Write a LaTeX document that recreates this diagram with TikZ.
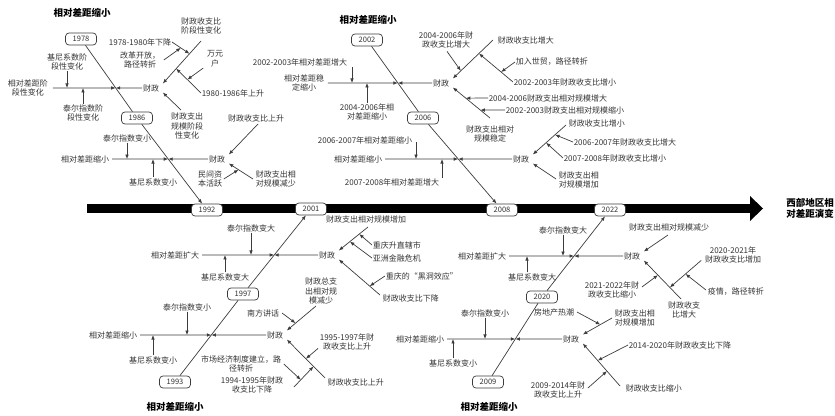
\documentclass[tikz,border=0pt]{standalone}
\usepackage{fontspec}
\setmainfont{Noto Sans CJK SC}
\usetikzlibrary{arrows.meta,calc}
\definecolor{ink}{HTML}{333333}
\definecolor{ln}{HTML}{3C3C3C}
\tikzset{
 lbl/.style={font=\fontsize{8}{9.8}\selectfont, text=ink, inner sep=0.6pt, align=center},
 ttl/.style={font=\fontsize{9.5}{11}\selectfont\bfseries, text=black, inner sep=0, align=center},
 yr/.style={draw=ln, line width=0.7pt, rounded corners=3.5pt, fill=white, minimum width=31pt, minimum height=12pt, inner sep=0, font=\fontsize{7.5}{8}\selectfont, text=ink},
 bone/.style={draw=ln, line width=0.7pt},
 arr/.style={bone, -{Latex[length=4.5pt,width=3.6pt]}},
}
\begin{document}
\begin{tikzpicture}[x=1pt,y=-1pt]
\useasboundingbox (0,0) rectangle (835,415);
% main spine
\fill[black] (87,204) rectangle (750,213);
\fill[black] (750,196) -- (763,208.5) -- (750,221) -- cycle;
\node[ttl] (goal) at (810,208) {西部地区相\\对差距演变};
% year boxes
\node[yr] (y1978) at (81,39) {1978};
\node[yr] (y1986) at (137,118) {1986};
\node[yr] (y1992) at (207,210) {1992};
\node[yr] (y1993) at (175,382) {1993};
\node[yr] (y1997) at (243,294) {1997};
\node[yr] (y2001) at (311,209) {2001};
\node[yr] (y2002) at (367,40) {2002};
\node[yr] (y2006) at (423,118) {2006};
\node[yr] (y2008) at (502,210) {2008};
\node[yr] (y2009) at (488,382) {2009};
\node[yr] (y2020) at (542,297) {2020};
\node[yr] (y2022) at (610,210) {2022};
% diagonal spines
\draw[bone] (y1978) -- (y1986);
\draw[arr] (y1986) -- (y1992);
\draw[bone] (y2002) -- (y2006);
\draw[arr] (y2006) -- (y2008);
\draw[bone] (y1993) -- (y1997);
\draw[arr] (y1997) -- (y2001);
\draw[bone] (y2009) -- (y2020);
\draw[arr] (y2020) -- (y2022);
% junctions
\coordinate (jA) at ($(y1978)!0.62!(y1986)$);
\coordinate (jB) at ($(y1986)!0.446!(y1992)$);
\coordinate (jC) at ($(y2002)!0.551!(y2006)$);
\coordinate (jD) at ($(y2006)!0.446!(y2008)$);
\coordinate (jE) at ($(y1993)!0.534!(y1997)$);
\coordinate (jF) at ($(y1997)!0.459!(y2001)$);
\coordinate (jG) at ($(y2009)!0.506!(y2020)$);
\coordinate (jH) at ($(y2020)!0.471!(y2022)$);
% titles
\node[ttl] (tA) at (82,13) {相对差距缩小};
\node[ttl] (tC) at (368,20) {相对差距缩小};
\node[ttl] (tE) at (175,407) {相对差距缩小};
\node[ttl] (tG) at (489,407) {相对差距缩小};

% ================= Fish A (1978-1986)
\node[lbl] (lA) at (28,88) {相对差距阶\\段性变化};
\node[lbl] (uA) at (67,62) {基尼系数阶\\段性变化};
\node[lbl] (dA) at (83,113) {泰尔指数阶\\段性变化};
\node[lbl] (fA) at (151,88) {财政};
\draw[arr,shorten <=4pt] (lA.east) -- (jA);
\draw[arr] (uA.south) -- (uA.south |- jA);
\draw[arr] (dA.north) -- (dA.north |- jA);
\draw[arr] (fA.west) -- (jA);
\coordinate (fA1) at ([xshift=3pt]fA.north east);
\coordinate (fA2) at ([xshift=3pt]fA.south east);
\coordinate (eA1) at (201,41);
\draw[arr] (eA1) -- (fA1);
\node[lbl] (bA1) at (201,26) {财政收支比\\阶段性变化};
\node[lbl,anchor=east] (sA1) at (172,42) {1978-1980年下降};
\coordinate (pA1) at ($(eA1)!0.3!(fA1)$);
\draw[arr] (sA1.east) -- (pA1);
\node[lbl] (cA1) at (140,60) {改革开放，\\路径转折};
\coordinate (qA1) at ($(sA1.east)!0.5!(pA1)$);
\draw[arr] ([xshift=3pt]cA1.east) -- (qA1);
\node[lbl,anchor=west] (sA2) at (201,93) {1980-1986年上升};
\coordinate (pA2) at ($(eA1)!0.65!(fA1)$);
\draw[arr] (sA2.west) -- (pA2);
\node[lbl] (cA2) at (215,59) {万元\\户};
\coordinate (qA2) at ($(sA2.west)!0.55!(pA2)$);
\draw[arr] ([xshift=-3pt]cA2.south west) -- (qA2);
\coordinate (eA2) at (181,110);
\draw[arr] (eA2) -- (fA2);
\node[lbl] (bA2) at (187,126) {财政支出\\规模阶段\\性变化};

% ================= Fish B (1986-1992)
\node[lbl,anchor=east] (lB) at (110,159) {相对差距缩小};
\node[lbl] (uB) at (127,138) {泰尔指数变小};
\node[lbl] (dB) at (153,182) {基尼系数变小};
\node[lbl] (fB) at (217,159) {财政};
\draw[arr,shorten <=2pt] (lB.east) -- (jB);
\draw[arr] (uB.south) -- (uB.south |- jB);
\draw[arr] (dB.north) -- (dB.north |- jB);
\draw[arr] (fB.west) -- (jB);
\coordinate (fB1) at ([xshift=3pt]fB.north east);
\coordinate (fB2) at ([xshift=3pt]fB.south east);
\coordinate (eB1) at (258,124);
\draw[arr] (eB1) -- (fB1);
\node[lbl] (bB1) at (256,118) {财政收支比上升};
\coordinate (eB2) at (253,179);
\draw[arr] (eB2) -- (fB2);
\node[lbl,anchor=west] (bB2) at (255,179) {财政支出相\\对规模减少};
\node[lbl] (cB1) at (210,179) {民间资\\本活跃};
\coordinate (pB1) at ($(eB2)!0.6!(fB2)$);
\draw[arr] ([xshift=1pt]cB1.east) -- (pB1);

% ================= Fish C (2002-2006)
\node[lbl] (lC) at (304,83) {相对差距稳\\定缩小};
\node[lbl,anchor=east] (uC) at (348,62) {2002-2003年相对差距增大};
\node[lbl] (dC) at (367,112) {2004-2006年相\\对差距缩小};
\node[lbl] (fC) at (441,83) {财政};
\draw[arr,shorten <=3pt] (lC.east) -- (jC);
\coordinate (uC0) at ($(uC.south east)+(4,1)$);
\draw[arr] (uC0) -- (uC0 |- jC);
\draw[arr] (dC.north) -- (dC.north |- jC);
\draw[arr] (fC.west) -- (jC);
\coordinate (fC1) at ([xshift=3pt]fC.north east);
\coordinate (fC2) at ([xshift=3pt]fC.south east);
\coordinate (eC1) at (493,40);
\draw[arr] (eC1) -- (fC1);
\node[lbl,anchor=west] (bC1) at (497,40) {财政收支比增大};
\node[lbl] (cC1) at (446,40) {2004-2006年财\\政收支比增大};
\coordinate (pC1) at ($(eC1)!0.8!(fC1)$);
\coordinate (cC1a) at ($(cC1.south)+(1,2)$);
\draw[arr] (cC1a) -- (pC1);
\coordinate (pC2) at ($(eC1)!0.35!(fC1)$);
\node[lbl,anchor=west] (sC1) at (513,82) {2002-2003年财政收支比增小};
\draw[arr] (sC1.west) -- (pC2);
\node[lbl,anchor=west] (cC2) at (515,62) {加入世贸，路径转折};
\coordinate (qC2) at ($(sC1.west)!0.35!(pC2)$);
\draw[arr] (cC2.west) -- (qC2);
\coordinate (eC2) at (490,118);
\draw[arr] (eC2) -- (fC2);
\node[lbl] (bC2) at (490,134) {财政支出相对\\规模稳定};
\node[lbl,anchor=west] (cC3) at (488,98) {2004-2006财政支出相对规模增大};
\coordinate (pC3) at ($(eC2)!0.65!(fC2)$);
\draw[arr] (cC3.west) -- (pC3);
\node[lbl,anchor=west] (cC4) at (505,110) {2002-2003财政支出相对规模缩小};
\coordinate (pC4) at ($(eC2)!0.26!(fC2)$);
\draw[arr] (cC4.west) -- (pC4);

% ================= Fish D (2006-2008)
\node[lbl,anchor=east] (lD) at (383,159) {相对差距缩小};
\node[lbl,anchor=east] (uD) at (413,140) {2006-2007年相对差距缩小};
\node[lbl,anchor=east] (dD) at (440,182) {2007-2008年相对差距增大};
\node[lbl] (fD) at (521,159) {财政};
\draw[arr,shorten <=2pt] (lD.east) -- (jD);
\coordinate (uD0) at ($(uD.east)+(3,2)$);
\draw[arr] (uD0) -- (uD0 |- jD);
\coordinate (dD0) at ($(dD.north east)+(2,0)$);
\draw[arr] (dD0) -- (dD0 |- jD);
\draw[arr] (fD.west) -- (jD);
\coordinate (fD1) at ([xshift=3pt]fD.north east);
\coordinate (fD2) at ([xshift=3pt]fD.south east);
\coordinate (eD1) at (566,125);
\draw[arr] (eD1) -- (fD1);
\node[lbl,anchor=west] (bD1) at (568,123) {财政收支比增小};
\node[lbl,anchor=west] (cD1) at (573,142) {2006-2007年财政收支比增大};
\coordinate (pD1) at ($(eD1)!0.33!(fD1)$);
\draw[arr] (cD1.west) -- (pD1);
\node[lbl,anchor=west] (cD2) at (563,158) {2007-2008年财政收支比增小};
\coordinate (pD2) at ($(eD1)!0.6!(fD1)$);
\draw[arr] (cD2.west) -- (pD2);
\coordinate (eD2) at (556,179);
\draw[arr] (eD2) -- (fD2);
\node[lbl,anchor=west] (bD2) at (558,180) {财政支出相\\对规模增加};

% ================= Fish E (1993-1997)
\node[lbl,anchor=east] (lE) at (138,335) {相对差距缩小};
\node[lbl] (uE) at (187,307) {泰尔指数变小};
\node[lbl] (dE) at (153,360) {基尼系数变小};
\node[lbl] (fE) at (275,335) {财政};
\draw[arr,shorten <=2pt] (lE.east) -- (jE);
\draw[arr] (uE.south) -- (uE.south |- jE);
\draw[arr] (dE.north) -- (dE.north |- jE);
\draw[arr] (fE.west) -- (jE);
\coordinate (fE1) at ([xshift=3pt]fE.north east);
\coordinate (fE2) at ([xshift=3pt]fE.south east);
\coordinate (eE1) at (316,306);
\draw[arr] (eE1) -- (fE1);
\node[lbl] (bE1) at (321,291) {财政总支\\出相对规\\模减少};
\node[lbl,anchor=east] (cE1) at (280,313) {南方讲话};
\coordinate (pE1) at ($(eE1)!0.7!(fE1)$);
\draw[arr] ([xshift=2pt]cE1.east) -- (pE1);
\coordinate (eE2) at (325,378);
\draw[arr] (eE2) -- (fE2);
\node[lbl,anchor=west] (bE2) at (327,382) {财政收支比上升};
\node[lbl] (cE2) at (347,342) {1995-1997年财\\政收支比上升};
\coordinate (pE2) at ($(eE2)!0.5!(fE2)$);
\coordinate (cE2a) at ($(cE2.south west)+(-1,-3)$);
\draw[arr] (cE2a) -- (pE2);
\node[lbl] (sE1) at (252,385) {1994-1995年财政\\收支比下降};
\coordinate (pE3) at ($(eE2)!0.3!(fE2)$);
\coordinate (sE1a) at ($(sE1.east)+(10,2)$);
\draw[arr] (sE1a) -- (pE3);
\node[lbl] (cE3) at (241,364) {市场经济制度建立，路\\径转折};
\coordinate (qE3) at ($(sE1a)!0.35!(pE3)$);
\draw[arr] ([xshift=2pt]cE3.east) -- (qE3);

% ================= Fish F (1997-2001)
\node[lbl,anchor=east] (lF) at (200,255) {相对差距扩大};
\node[lbl] (uF) at (251,228) {泰尔指数变大};
\node[lbl] (dF) at (225,277) {基尼系数变大};
\node[lbl] (fF) at (327,255) {财政};
\draw[arr,shorten <=2pt] (lF.east) -- (jF);
\draw[arr] (uF.south) -- (uF.south |- jF);
\draw[arr] (dF.north) -- (dF.north |- jF);
\draw[arr] (fF.west) -- (jF);
\coordinate (fF1) at ([xshift=3pt]fF.north east);
\coordinate (fF2) at ([xshift=3pt]fF.south east);
\coordinate (eF1) at (368,227);
\draw[arr] (eF1) -- (fF1);
\node[lbl] (bF1) at (366,219) {财政支出相对规模增加};
\node[lbl,anchor=west] (cF1) at (372,245) {重庆升直辖市};
\coordinate (pF1) at ($(eF1)!0.3!(fF1)$);
\draw[arr] (cF1.west) -- (pF1);
\node[lbl,anchor=west] (cF2) at (372,258) {亚洲金融危机};
\coordinate (pF2) at ($(eF1)!0.62!(fF1)$);
\draw[arr] (cF2.west) -- (pF2);
\coordinate (eF2) at (380,295);
\draw[arr] (eF2) -- (fF2);
\node[lbl,anchor=west] (bF2) at (382,298) {财政收支比下降};
\node[lbl,anchor=west] (cF3) at (385,276) {重庆的“黑洞效应”};
\coordinate (pF3) at ($(eF2)!0.25!(fF2)$);
\draw[arr] (cF3.west) -- (pF3);

% ================= Fish G (2009-2020)
\node[lbl,anchor=east] (lG) at (445,339) {相对差距缩小};
\node[lbl] (uG) at (485,313) {泰尔指数变小};
\node[lbl] (dG) at (453,363) {基尼系数变小};
\node[lbl] (fG) at (571,339) {财政};
\draw[arr,shorten <=2pt] (lG.east) -- (jG);
\draw[arr] (uG.south) -- (uG.south |- jG);
\draw[arr] (dG.north) -- (dG.north |- jG);
\draw[arr] (fG.west) -- (jG);
\coordinate (fG1) at ([xshift=3pt]fG.north east);
\coordinate (fG2) at ([xshift=3pt]fG.south east);
\coordinate (eG1) at (612,318);
\draw[arr] (eG1) -- (fG1);
\node[lbl,anchor=west] (bG1) at (614,318) {财政支出相\\对规模增加};
\node[lbl,anchor=east] (cG1) at (575,312) {房地产热潮};
\coordinate (pG1) at ($(eG1)!0.4!(fG1)$);
\draw[arr] ([xshift=2pt]cG1.east) -- (pG1);
\coordinate (eG2) at (620,386);
\draw[arr] (eG2) -- (fG2);
\node[lbl,anchor=west] (bG2) at (625,388) {财政收支比缩小};
\node[lbl,anchor=west] (sG1) at (628,345) {2014-2020年财政收支比下降};
\coordinate (pG2) at ($(eG2)!0.6!(fG2)$);
\draw[arr] (sG1.west) -- (pG2);
\node[lbl] (cG2) at (558,390) {2009-2014年财\\政收支比上升};
\coordinate (pG3) at ($(eG2)!0.35!(fG2)$);
\coordinate (cG2a) at ($(cG2.east)+(2,-2)$);
\draw[arr] (cG2a) -- (pG3);

% ================= Fish H (2020-2022)
\node[lbl,anchor=east] (lH) at (507,256) {相对差距扩大};
\node[lbl] (uH) at (563,230) {泰尔指数变大};
\node[lbl] (dH) at (532,277) {基尼系数变大};
\node[lbl] (fH) at (632,256) {财政};
\draw[arr,shorten <=2pt] (lH.east) -- (jH);
\draw[arr] (uH.south) -- (uH.south |- jH);
\coordinate (dH0) at ($(dH.north)+(-5,0)$);
\draw[arr] (dH0) -- (dH0 |- jH);
\draw[arr] (fH.west) -- (jH);
\coordinate (fH1) at ([xshift=3pt]fH.north east);
\coordinate (fH2) at ([xshift=3pt]fH.south east);
\coordinate (eH1) at (668,235);
\draw[arr] (eH1) -- (fH1);
\node[lbl] (bH1) at (669,227) {财政支出相对规模减少};
\coordinate (eH2) at (681,299);
\draw[arr] (eH2) -- (fH2);
\node[lbl] (bH2) at (684,310) {财政收支\\比增大};
\node[lbl] (sH1) at (733,255) {2020-2021年\\财政收支比增加};
\coordinate (pH1) at ($(eH2)!0.3!(fH2)$);
\coordinate (sH1a) at ($(sH1.south west)+(-3,-4)$);
\draw[arr] (sH1a) -- (pH1);
\node[lbl,anchor=west] (cH1) at (707,292) {疫情，路径转折};
\coordinate (qH1) at ($(sH1a)!0.5!(pH1)$);
\draw[arr] ($(cH1.west)+(-1,-2)$) -- (qH1);
\node[lbl] (cH2) at (612,290) {2021-2022年财\\政收支比缩小};
\coordinate (pH2) at ($(eH2)!0.62!(fH2)$);
\draw[arr] ($(cH2.east)+(2,-3)$) -- (pH2);
\end{tikzpicture}
\end{document}
